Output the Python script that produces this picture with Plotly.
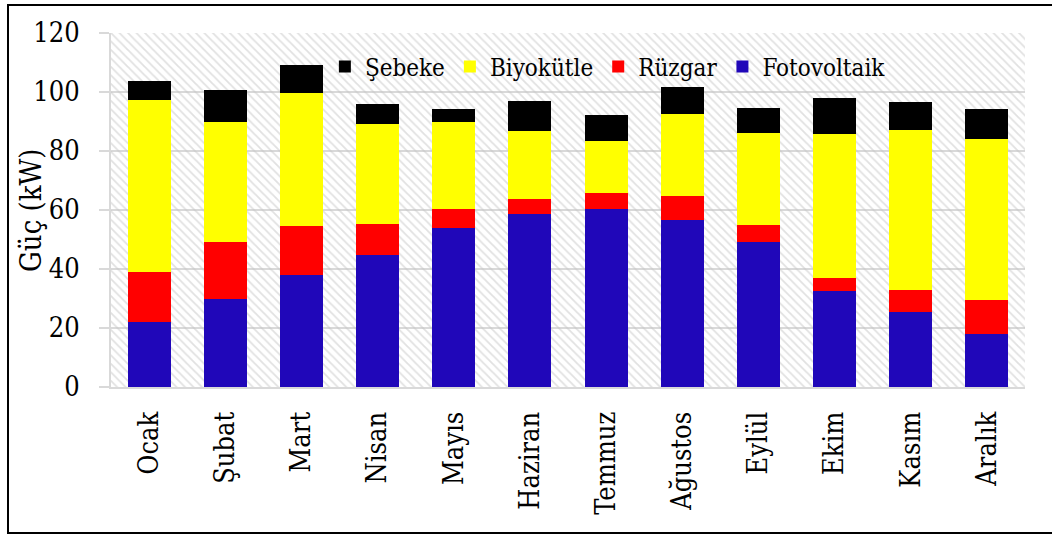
import plotly.graph_objects as go

# Monthly power mix (kW)
months = ["Ocak", "Şubat", "Mart", "Nisan", "Mayıs", "Haziran",
          "Temmuz", "Ağustos", "Eylül", "Ekim", "Kasım", "Aralık"]
fotovoltaik = [21.9, 29.7, 37.8, 44.6, 53.9, 58.7, 60.3, 56.6, 49.1, 32.4, 25.3, 18.0]
ruzgar = [17.0, 19.3, 16.7, 10.5, 6.3, 5.0, 5.3, 8.1, 5.8, 4.4, 7.5, 11.6]
biyokutle = [58.5, 41.0, 45.0, 34.2, 29.7, 23.1, 17.8, 27.7, 31.3, 48.9, 54.2, 54.3]
sebeke = [6.3, 10.8, 9.7, 6.8, 4.3, 10.0, 8.9, 9.2, 8.4, 12.4, 9.5, 10.2]

y_ticks = [0, 20, 40, 60, 80, 100, 120]
y_max = 120

FONT = "DejaVu Serif Condensed, DejaVu Serif, serif"
GRID = "#d9d9d9"

fig = go.Figure()

# Hatched plot-area background: one full-width patterned bar on a hidden axis
fig.add_trace(go.Bar(
    x=[0.5], y=[y_max], width=[1.0],
    xaxis="x", yaxis="y",
    marker=dict(
        color="rgba(255,255,255,0)",
        line=dict(width=0),
        pattern=dict(shape="\\", fgcolor="#c4c4c4", bgcolor="rgba(0,0,0,0)",
                     size=6, solidity=0.3),
    ),
    showlegend=False, hoverinfo="skip",
))

series = [
    ("Fotovoltaik", fotovoltaik, "#2007B9"),
    ("Rüzgar", ruzgar, "#FF0000"),
    ("Biyokütle", biyokutle, "#FFFF00"),
    ("Şebeke", sebeke, "#000000"),
]
for name, vals, color in series:
    fig.add_trace(go.Bar(
        x=months, y=vals, name=name,
        xaxis="x2", yaxis="y",
        marker=dict(color=color, line=dict(width=0)),
    ))

fig.update_layout(
    width=1052, height=534,
    margin=dict(l=111, r=27, t=33, b=147),
    paper_bgcolor="white", plot_bgcolor="white",
    barmode="stack", bargap=0.435,
    font=dict(family=FONT, color="black", size=27),
    showlegend=True,
    legend=dict(
        orientation="h", traceorder="reversed",
        x=0.234, xanchor="left", y=0.904, yanchor="middle",
        bgcolor="rgba(0,0,0,0)", font=dict(family=FONT, size=24),
        itemwidth=30,
    ),
    xaxis=dict(range=[0, 1], visible=False, showgrid=False, fixedrange=True),
    xaxis2=dict(
        overlaying="x", side="bottom", anchor="y",
        type="category", tickangle=-90,
        tickfont=dict(family=FONT, size=27),
        showgrid=False, ticks="", showline=True, linecolor=GRID, linewidth=2,
        ticklabelstandoff=12,
    ),
    yaxis=dict(
        range=[0, y_max], tickvals=y_ticks,
        tickfont=dict(family=FONT, size=27),
        showgrid=True, gridcolor=GRID, gridwidth=2,
        ticks="outside", ticklen=10, tickcolor=GRID, tickwidth=2,
        showline=True, linecolor=GRID, linewidth=2,
        zeroline=False, ticklabelstandoff=14,
    ),
    annotations=[dict(
        text="Güç (kW)", textangle=-90,
        xref="paper", yref="paper", x=(31 - 111) / 914, y=0.5,
        xanchor="center", yanchor="middle", showarrow=False,
        font=dict(family=FONT, size=29),
    )],
    shapes=[dict(
        type="rect", xref="paper", yref="paper",
        x0=(8 - 111) / 914, x1=(1060 - 111) / 914,
        y0=-(533 - 387) / 354, y1=1 + (33 - 5) / 354,
        line=dict(color="black", width=2), layer="above",
    )],
)

fig.write_html("out.html")
